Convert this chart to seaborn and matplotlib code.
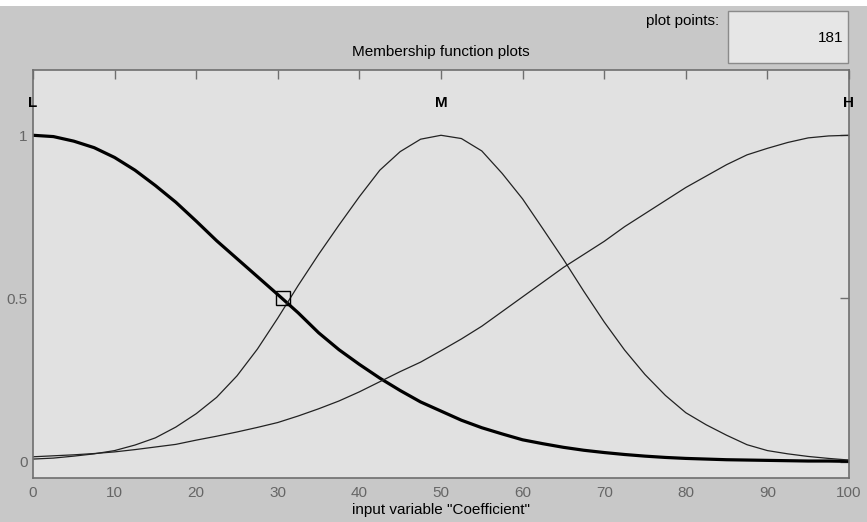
import matplotlib
matplotlib.use("Agg")
import matplotlib.pyplot as plt
import matplotlib.patches as mpatches
import numpy as np
import pandas as pd
import seaborn as sns

# ---- data ----
x_vals = [0, 2.5, 5, 7.5, 10, 12.5, 15, 17.5, 20, 22.5, 25, 27.5, 30, 32.5, 35, 37.5,
          40, 42.5, 45, 47.5, 50, 52.5, 55, 57.5, 60, 62.5, 65, 67.5, 70, 72.5, 75,
          77.5, 80, 82.5, 85, 87.5, 90, 92.5, 95, 97.5, 100]
mf_L = [1.000, 0.996, 0.982, 0.962, 0.932, 0.893, 0.846, 0.795, 0.737, 0.677, 0.622,
        0.567, 0.512, 0.456, 0.395, 0.343, 0.298, 0.256, 0.218, 0.183, 0.155, 0.127,
        0.104, 0.085, 0.067, 0.055, 0.044, 0.035, 0.028, 0.022, 0.017, 0.013, 0.010,
        0.008, 0.006, 0.005, 0.004, 0.003, 0.002, 0.002, 0.001]
mf_M = [0.008, 0.011, 0.017, 0.024, 0.034, 0.051, 0.073, 0.106, 0.147, 0.197, 0.263,
        0.345, 0.440, 0.540, 0.635, 0.725, 0.812, 0.893, 0.950, 0.988, 1.000, 0.990,
        0.952, 0.883, 0.805, 0.713, 0.620, 0.522, 0.428, 0.342, 0.267, 0.203, 0.150,
        0.113, 0.081, 0.052, 0.034, 0.024, 0.016, 0.010, 0.005]
mf_H = [0.015, 0.018, 0.021, 0.025, 0.030, 0.037, 0.045, 0.053, 0.066, 0.078, 0.091,
        0.105, 0.120, 0.140, 0.162, 0.186, 0.214, 0.245, 0.276, 0.305, 0.340, 0.376,
        0.415, 0.460, 0.505, 0.550, 0.595, 0.635, 0.675, 0.720, 0.760, 0.800, 0.840,
        0.875, 0.910, 0.940, 0.960, 0.978, 0.992, 0.998, 1.000]
mf_names = ["L", "M", "H"]
mf_peaks = [0, 50, 100]
marker_x = [30.6]
marker_y = [0.5]
x_ticks = [0, 10, 20, 30, 40, 50, 60, 70, 80, 90, 100]
y_ticks = [0, 0.5, 1]
y_ticklabels = ["0", "0.5", "1"]
title_text = "Membership function plots"
xlabel_text = 'input variable "Coefficient"'
plot_points = "181"

df = pd.DataFrame({
    "x": x_vals * 3,
    "mu": mf_L + mf_M + mf_H,
    "mf": ["L"] * len(x_vals) + ["M"] * len(x_vals) + ["H"] * len(x_vals),
})

sns.set_style("white")
FONT = ["Liberation Sans Narrow", "Liberation Sans", "DejaVu Sans"]
plt.rcParams["font.family"] = FONT

fig = plt.figure(figsize=(8.67, 5.22), dpi=100)
fig.patch.set_facecolor("#c8c8c8")
# white strip at top
fig.patches.append(mpatches.Rectangle((0, 1 - 6 / 522), 1, 6 / 522, transform=fig.transFigure,
                                      facecolor="white", edgecolor="none", zorder=0))

ax = fig.add_axes([33 / 867, 44 / 522, 816 / 867, 408 / 522])
ax.set_facecolor("#e1e1e1")

sns.lineplot(data=df[df.mf == "L"], x="x", y="mu", ax=ax, color="black", linewidth=2.3,
             legend=False)
sns.lineplot(data=df[df.mf == "M"], x="x", y="mu", ax=ax, color="#222222", linewidth=0.9,
             legend=False)
sns.lineplot(data=df[df.mf == "H"], x="x", y="mu", ax=ax, color="#222222", linewidth=0.9,
             legend=False)
ax.plot(marker_x, marker_y, marker="s", markersize=9.5, markerfacecolor="none",
        markeredgecolor="black", markeredgewidth=1.0, linestyle="none")

ax.set_xlim(0, 100)
ax.set_ylim(-0.05, 1.2)
ax.set_xticks(x_ticks)
ax.set_yticks(y_ticks)
ax.set_yticklabels(y_ticklabels)
ax.tick_params(axis="both", direction="in", length=6.5, width=1.0, color="#6e6e6e",
               labelcolor="#666666", labelsize=11, top=True, right=True)
ax.tick_params(axis="x", pad=6)
ax.tick_params(axis="y", pad=4)
for s in ax.spines.values():
    s.set_visible(True)
    s.set_color("#6e6e6e")
    s.set_linewidth(1.2)

for name, px in zip(mf_names, mf_peaks):
    ax.text(px, 1.098, name, ha="center", va="center", fontsize=11, color="black",
            fontweight="bold")

ax.set_xlabel(xlabel_text, fontsize=11, color="black", labelpad=2)
ax.set_ylabel("")
fig.text(441 / 867, 1 - 52 / 522, title_text, ha="center", va="center", fontsize=11,
         color="black")

# plot points box
fig.text(719 / 867, 1 - 21 / 522, "plot points:", ha="right", va="center", fontsize=11,
         color="black")
fig.patches.append(mpatches.Rectangle((728 / 867, 1 - 63 / 522), 120 / 867, 52 / 522,
                                      transform=fig.transFigure, facecolor="#e6e6e6",
                                      edgecolor="#8a8a8a", linewidth=1.0))
fig.text(843 / 867, 1 - 38 / 522, plot_points, ha="right", va="center", fontsize=11,
         color="black")

fig.savefig("out.png", dpi=100, facecolor=fig.get_facecolor())
